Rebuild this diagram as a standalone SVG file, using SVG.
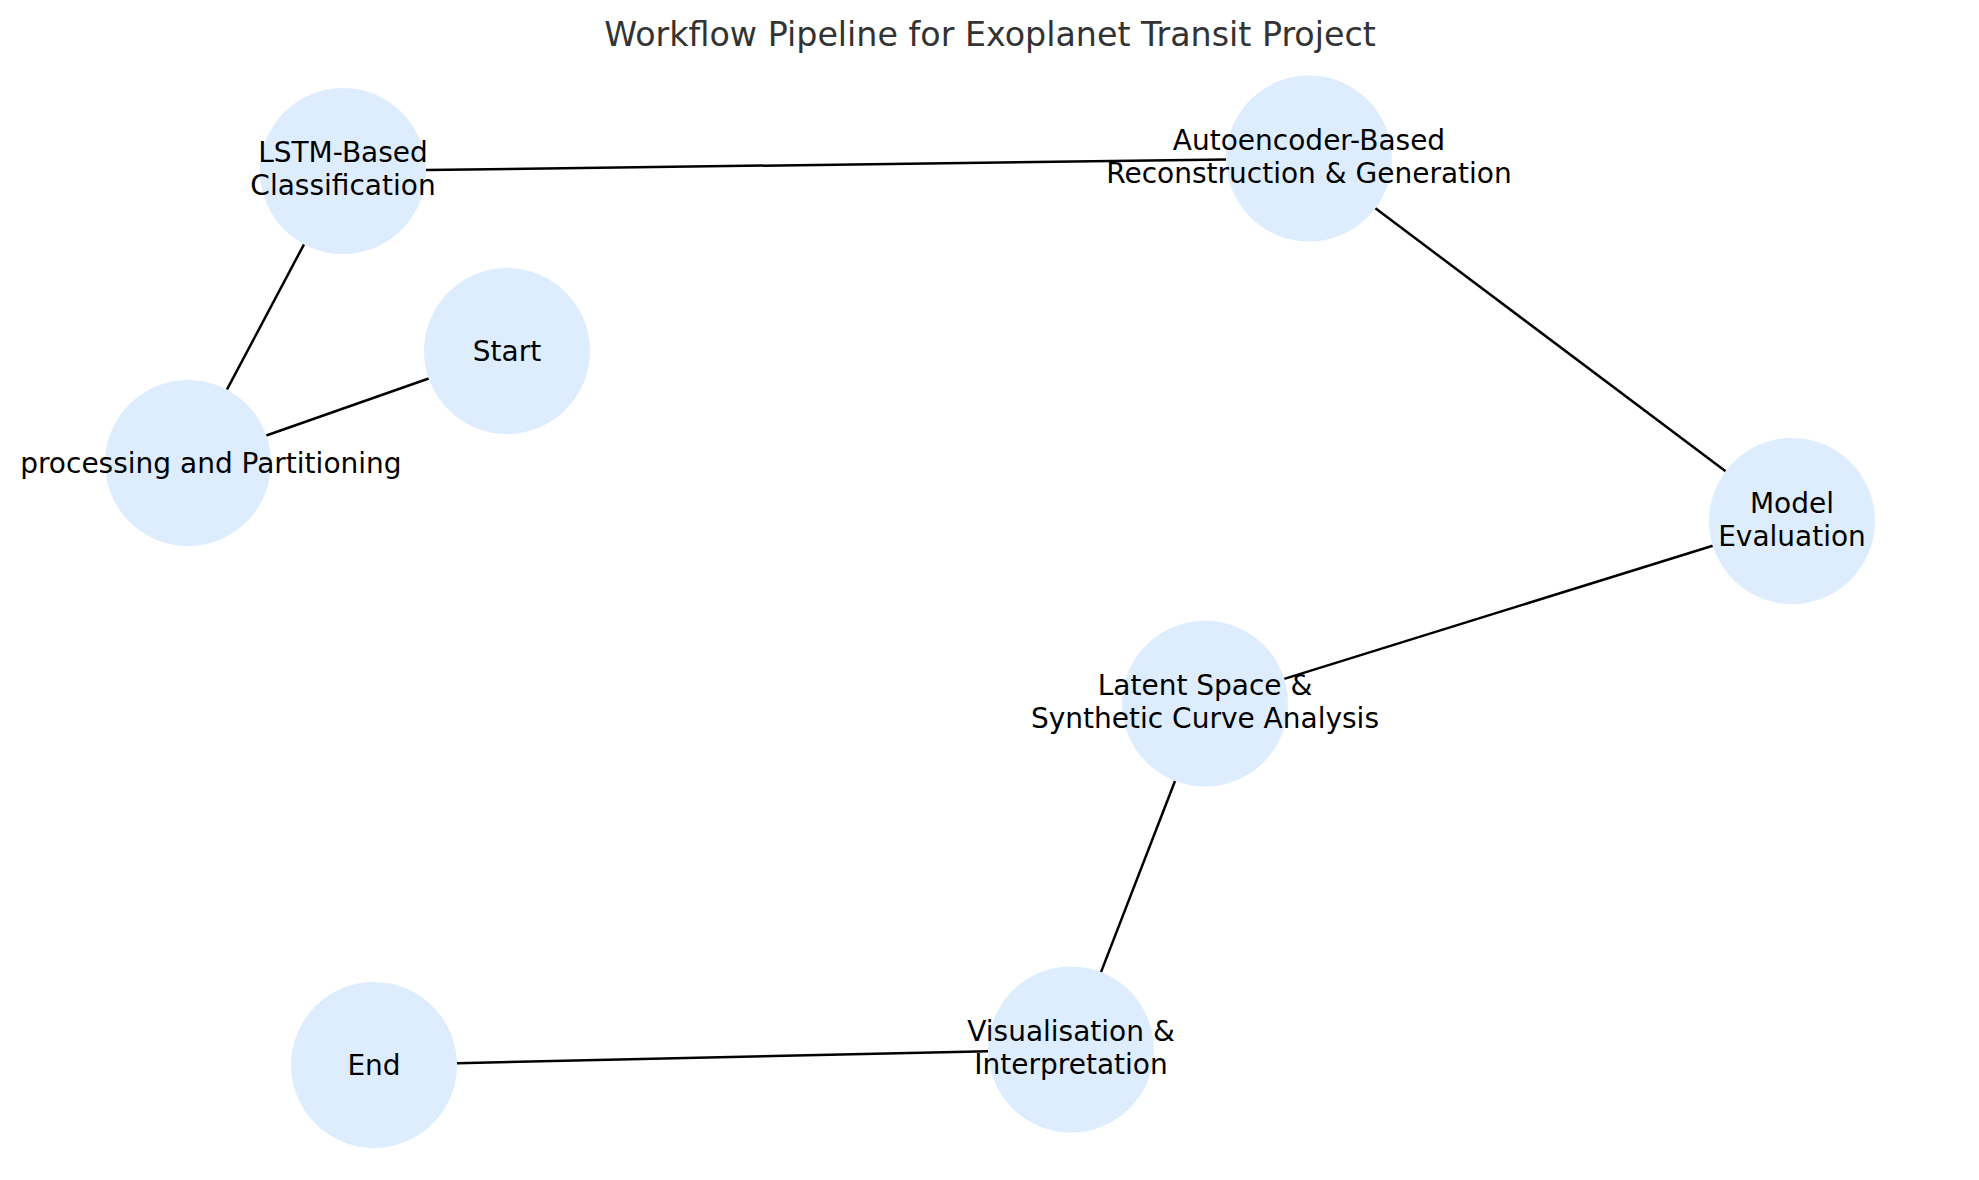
<svg xmlns="http://www.w3.org/2000/svg" width="1979" height="1180" viewBox="0 0 1979 1180">
<style>
.node{fill:#ddedfd;stroke:none}
.lbl{font-family:"DejaVu Sans",sans-serif;font-size:28px;fill:#000;text-anchor:middle}
.title{font-family:"DejaVu Sans",sans-serif;font-size:33.3px;fill:#333333;text-anchor:middle}
.edge{stroke:#000;stroke-width:2.5;fill:none;stroke-linecap:butt}
</style>
<rect width="1979" height="1180" fill="#fff"/>
<text class="title" x="990" y="46">Workflow Pipeline for Exoplanet Transit Project</text>
<g id="connectors">
<line class="edge" x1="428.7" y1="378.5" x2="266.3" y2="435.5"/>
<line class="edge" x1="226.9" y1="389.7" x2="304" y2="244.3"/>
<line class="edge" x1="426" y1="170" x2="1226" y2="159.6"/>
<line class="edge" x1="1375.4" y1="208.3" x2="1725.6" y2="471.2"/>
<line class="edge" x1="1712.7" y1="545.7" x2="1284.3" y2="678.9"/>
<line class="edge" x1="1175" y1="781" x2="1101" y2="972.1"/>
<line class="edge" x1="988" y1="1051.3" x2="457" y2="1063.2"/>
</g>
<g id="node-start"><circle class="node" cx="507" cy="351" r="83"/><text class="lbl" x="507" y="360.5">Start</text></g>
<g id="node-preprocessing"><circle class="node" cx="188" cy="463" r="83"/><text class="lbl" x="20.2" y="472.5" style="text-anchor:start">processing and Partitioning</text></g>
<g id="node-lstm"><circle class="node" cx="343" cy="171" r="83"/><text class="lbl" x="343" y="162">LSTM-Based</text><text class="lbl" x="343" y="195">Classification</text></g>
<g id="node-autoencoder"><circle class="node" cx="1309" cy="158.5" r="83"/><text class="lbl" x="1309" y="150">Autoencoder-Based</text><text class="lbl" x="1309" y="183">Reconstruction &amp; Generation</text></g>
<g id="node-evaluation"><circle class="node" cx="1792" cy="521" r="83"/><text class="lbl" x="1792" y="512.5">Model</text><text class="lbl" x="1792" y="545.5">Evaluation</text></g>
<g id="node-latent"><circle class="node" cx="1205" cy="703.6" r="83"/><text class="lbl" x="1205" y="695">Latent Space &amp;</text><text class="lbl" x="1205" y="728">Synthetic Curve Analysis</text></g>
<g id="node-visualisation"><circle class="node" cx="1071" cy="1049.5" r="83"/><text class="lbl" x="1071" y="1041">Visualisation &amp;</text><text class="lbl" x="1071" y="1074">Interpretation</text></g>
<g id="node-end"><circle class="node" cx="374" cy="1065" r="83"/><text class="lbl" x="374" y="1074.5">End</text></g>
</svg>
